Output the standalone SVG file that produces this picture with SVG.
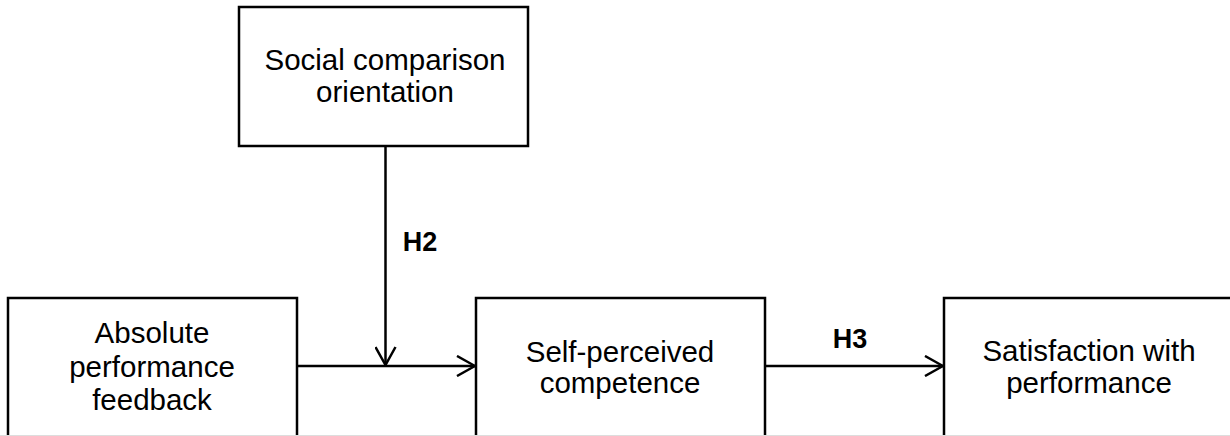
<svg xmlns="http://www.w3.org/2000/svg" width="1230" height="436" viewBox="0 0 1230 436">
<style>
.box{fill:#fff;stroke:#000;stroke-width:2.5}
.t{font-family:"Liberation Sans",Arial,sans-serif;font-size:29.5px;fill:#000;text-anchor:middle}
.h{font-family:"Liberation Sans",Arial,sans-serif;font-size:27px;font-weight:bold;fill:#000;text-anchor:middle}
.c{fill:none;stroke:#000;stroke-width:2.5}
</style>
<defs>
<marker id="arr" viewBox="0 0 20 22" refX="19" refY="11" markerWidth="20" markerHeight="22" markerUnits="userSpaceOnUse" orient="auto">
<path d="M1,1 L19,11 L1,21" fill="none" stroke="#000" stroke-width="2.5"/>
</marker>
</defs>
<rect width="1230" height="436" fill="#fff"/>
<g id="connectors">
<line class="c" x1="385.5" y1="146" x2="385.5" y2="365" marker-end="url(#arr)"/>
<line class="c" x1="297" y1="366" x2="475" y2="366" marker-end="url(#arr)"/>
<line class="c" x1="765" y1="366" x2="943" y2="366" marker-end="url(#arr)"/>
<text class="h" x="420" y="251">H2</text>
<text class="h" x="850" y="348">H3</text>
</g>
<g id="node-sco">
<rect class="box" x="239" y="7" width="289" height="139"/>
<text class="t" x="385" y="70">Social comparison</text>
<text class="t" x="385" y="102">orientation</text>
</g>
<g id="node-apf">
<rect class="box" x="8" y="298" width="289" height="170"/>
<text class="t" x="152" y="343">Absolute</text>
<text class="t" x="152" y="377">performance</text>
<text class="t" x="152" y="410">feedback</text>
</g>
<g id="node-spc">
<rect class="box" x="476" y="298" width="289" height="170"/>
<text class="t" x="620" y="362">Self-perceived</text>
<text class="t" x="620" y="393">competence</text>
</g>
<g id="node-swp">
<rect class="box" x="944" y="298" width="300" height="170"/>
<text class="t" x="1089" y="361">Satisfaction with</text>
<text class="t" x="1089" y="393">performance</text>
</g>
<line x1="0" y1="435.5" x2="1230" y2="435.5" stroke="#ddd" stroke-width="1"/>
</svg>
